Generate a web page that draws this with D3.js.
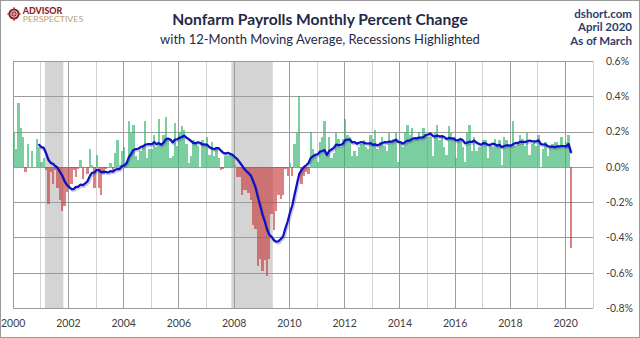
<!DOCTYPE html>
<html>
<head>
<meta charset="utf-8">
<script src="https://cdn.jsdelivr.net/npm/d3@7"></script>
<style>
  html, body { margin: 0; padding: 0; background: #fff; }
  svg { display: block; font-family: Lato, "Open Sans", sans-serif; }
</style>
</head>
<body>
<svg id="chart" width="640" height="338"></svg>
<script>
// Nonfarm payrolls, monthly percent change (%), one array per year
const pct2000 = [0.19, 0.10, 0.36, 0.22, 0.17, -0.03, 0.13, 0.00, 0.09, 0.00, 0.16, 0.11];
const pct2001 = [0.03, 0.05, -0.02, -0.21, -0.03, -0.10, -0.02, -0.12, -0.19, -0.25, -0.22, -0.14];
const pct2002 = [-0.11, -0.10, -0.02, -0.06, -0.01, 0.04, -0.07, 0.00, -0.04, 0.10, 0.01, -0.12];
const pct2003 = [0.07, -0.12, -0.16, -0.04, -0.01, 0.00, 0.02, -0.03, 0.08, 0.15, 0.01, 0.09];
const pct2004 = [0.11, 0.03, 0.26, 0.19, 0.24, 0.06, 0.04, 0.09, 0.12, 0.26, 0.05, 0.10];
const pct2005 = [0.10, 0.18, 0.11, 0.27, 0.13, 0.18, 0.28, 0.15, 0.05, 0.06, 0.25, 0.12];
const pct2006 = [0.20, 0.23, 0.21, 0.13, 0.02, 0.06, 0.15, 0.13, 0.12, 0.00, 0.15, 0.13];
const pct2007 = [0.17, 0.07, 0.14, 0.06, 0.10, 0.05, -0.02, -0.01, 0.06, 0.06, 0.08, 0.07];
const pct2008 = [0.01, -0.06, -0.06, -0.16, -0.13, -0.13, -0.15, -0.19, -0.33, -0.35, -0.56, -0.52];
const pct2009 = [-0.59, -0.53, -0.62, -0.52, -0.27, -0.36, -0.25, -0.16, -0.18, -0.16, -0.01, -0.05];
const pct2010 = [0.02, -0.05, 0.13, 0.19, 0.40, -0.10, -0.05, -0.03, -0.04, 0.20, 0.10, 0.07];
const pct2011 = [0.03, 0.14, 0.17, 0.26, 0.06, 0.17, 0.05, 0.08, 0.19, 0.16, 0.11, 0.16];
const pct2012 = [0.27, 0.18, 0.17, 0.06, 0.09, 0.06, 0.11, 0.13, 0.15, 0.11, 0.10, 0.18];
const pct2013 = [0.16, 0.21, 0.10, 0.14, 0.17, 0.12, 0.09, 0.19, 0.14, 0.16, 0.19, 0.03];
const pct2014 = [0.14, 0.11, 0.20, 0.24, 0.18, 0.22, 0.15, 0.17, 0.20, 0.16, 0.22, 0.18];
const pct2015 = [0.17, 0.17, 0.06, 0.19, 0.24, 0.15, 0.18, 0.11, 0.07, 0.23, 0.19, 0.17];
const pct2016 = [0.05, 0.16, 0.16, 0.11, 0.03, 0.19, 0.24, 0.09, 0.17, 0.09, 0.11, 0.11];
const pct2017 = [0.15, 0.15, 0.05, 0.12, 0.11, 0.16, 0.13, 0.15, 0.01, 0.17, 0.15, 0.12];
const pct2018 = [0.12, 0.26, 0.12, 0.13, 0.18, 0.16, 0.12, 0.19, 0.07, 0.13, 0.14, 0.12];
const pct2019 = [0.18, 0.00, 0.10, 0.14, 0.06, 0.12, 0.13, 0.14, 0.14, 0.12, 0.17, 0.12];
const pct2020 = [0.14, 0.18, -0.46];

const startYear = 2000;
const endYear = 2021;
const yearLabels = ["2000", "2002", "2004", "2006", "2008", "2010", "2012", "2014", "2016", "2018", "2020"];
const yTickValues = [0.6, 0.4, 0.2, 0.0, -0.2, -0.4, -0.6, -0.8];
const recessions = [
  { from: "2001-03", to: "2001-11" },
  { from: "2007-12", to: "2009-06" }
];
const maWindow = 12;

// ---- assemble the monthly series ----
const monthly = [].concat(pct2000, pct2001, pct2002, pct2003, pct2004, pct2005, pct2006,
  pct2007, pct2008, pct2009, pct2010, pct2011, pct2012, pct2013, pct2014, pct2015,
  pct2016, pct2017, pct2018, pct2019, pct2020);
const bars = monthly.map((v, i) => ({ i, v }));

// trailing 12-month moving average
const ma = [];
for (let i = maWindow - 1; i < monthly.length; i++) {
  ma.push({ i, v: d3.mean(monthly.slice(i - maWindow + 1, i + 1)) });
}

const monthIndex = s => {
  const [yy, mm] = s.split("-").map(Number);
  return (yy - startYear) * 12 + (mm - 1);
};

// ---- layout ----
const svg = d3.select("#chart");
const W = 640, H = 338;
const plot = { left: 12.7, right: 592.7, top: 61, bottom: 308 };

const x = d3.scaleLinear().domain([0, (endYear - startYear) * 12]).range([plot.left, plot.right]);
const y = d3.scaleLinear().domain([-0.8, 0.6]).range([plot.bottom, plot.top]);
const crisp = v => Math.round(v) + 0.5;

// outer frame
svg.append("rect").attr("x", 0.5).attr("y", 0.5).attr("width", W - 1).attr("height", H - 1)
  .attr("fill", "#fff").attr("stroke", "#9a9a9a");

// recession bands
svg.append("g").selectAll("rect").data(recessions).join("rect")
  .attr("x", d => x(monthIndex(d.from)))
  .attr("width", d => x(monthIndex(d.to)) - x(monthIndex(d.from)))
  .attr("y", plot.top).attr("height", plot.bottom - plot.top)
  .attr("fill", "#d4d4d4");

// gridlines
const grid = svg.append("g").attr("shape-rendering", "crispEdges");
const yearsAll = d3.range(startYear, endYear + 1);
grid.selectAll("line.v").data(yearsAll).join("line").attr("class", "v")
  .attr("x1", d => crisp(x((d - startYear) * 12))).attr("x2", d => crisp(x((d - startYear) * 12)))
  .attr("y1", plot.top).attr("y2", plot.bottom)
  .attr("stroke", d => (d % 2 === 0 && d < endYear) ? "#9c9c9c" : "#d2d2d2");
grid.selectAll("line.h").data(yTickValues).join("line").attr("class", "h")
  .attr("x1", plot.left).attr("x2", plot.right)
  .attr("y1", d => crisp(y(d))).attr("y2", d => crisp(y(d)))
  .attr("stroke", "#9c9c9c");

// monthly bars
svg.append("g").attr("shape-rendering", "crispEdges")
  .selectAll("rect").data(bars).join("rect")
  .attr("x", d => Math.round(x(d.i)))
  .attr("width", d => Math.round(x(d.i + 1)) - Math.round(x(d.i)))
  .attr("y", d => Math.round(y(Math.max(0, d.v))))
  .attr("height", d => Math.max(0, Math.round(y(Math.min(0, d.v))) - Math.round(y(Math.max(0, d.v)))))
  .attr("fill", d => d.v >= 0 ? "#2fb36b" : "#c83a3a")
  .attr("fill-opacity", 0.64);

// moving average line with a soft shadow
const line = d3.line().x(d => x(d.i + 0.5)).y(d => y(d.v)).curve(d3.curveLinear);
svg.append("path").datum(ma).attr("d", line)
  .attr("fill", "none").attr("stroke", "#303070").attr("stroke-opacity", 0.25)
  .attr("stroke-width", 2.6).attr("transform", "translate(1,1.5)")
  .attr("stroke-linejoin", "round");
svg.append("path").datum(ma).attr("d", line)
  .attr("fill", "none").attr("stroke", "#0d10c8").attr("stroke-width", 2.2)
  .attr("stroke-linejoin", "round").attr("stroke-linecap", "round");

// y axis on the right
const fmtPct = v => (v < 0 ? "-" : "") + Math.abs(v).toFixed(1) + "%";
const yAxis = svg.append("g").attr("transform", `translate(${plot.right},0)`)
  .call(d3.axisRight(y).tickValues(yTickValues).tickFormat(fmtPct).tickSize(0).tickPadding(13.3));
yAxis.select(".domain").remove();
yAxis.selectAll("text").attr("font-family", "Lato, sans-serif").attr("font-size", 10.5)
  .attr("fill", "#404040");

// x axis
const xAxis = svg.append("g").attr("transform", `translate(0,${plot.bottom})`)
  .call(d3.axisBottom(x)
    .tickValues(yearLabels.map(s => (Number(s) - startYear) * 12))
    .tickFormat((d, k) => yearLabels[k]).tickSize(0).tickPadding(12));
xAxis.select(".domain").remove();
xAxis.selectAll("text").attr("font-family", "Lato, sans-serif").attr("font-size", 10.5)
  .attr("fill", "#404040");

// titles
svg.append("text").attr("x", 320).attr("y", 25).attr("text-anchor", "middle")
  .attr("font-size", 15.6).attr("font-weight", 700).attr("fill", "#1f2a48")
  .text("Nonfarm Payrolls Monthly Percent Change");
svg.append("text").attr("x", 320).attr("y", 44).attr("text-anchor", "middle")
  .attr("font-size", 13).attr("fill", "#1f2a48")
  .text("with 12-Month Moving Average, Recessions Highlighted");

// source notes, top right
const notes = ["dshort.com", "April 2020", "As of March"];
svg.append("g").selectAll("text").data(notes).join("text")
  .attr("x", 632).attr("y", (d, k) => 17.5 + k * 13.5).attr("text-anchor", "end")
  .attr("font-size", 11.5).attr("font-weight", 700).attr("fill", "#2d3d6b")
  .text(d => d);

// publisher mark, top left
const logo = svg.append("g");
logo.append("circle").attr("cx", 14).attr("cy", 14).attr("r", 5.6).attr("fill", "#8e1f1f");
logo.append("circle").attr("cx", 14).attr("cy", 14).attr("r", 3.2).attr("fill", "none")
  .attr("stroke", "#fff").attr("stroke-width", 0.8);
logo.append("path").attr("d", "M14,7.2V20.8M7.2,14H20.8").attr("stroke", "#8e1f1f").attr("stroke-width", 1.2);
logo.append("path").attr("d", "M14,10V18M10,14H18").attr("stroke", "#fff").attr("stroke-width", 0.7);
logo.append("text").attr("x", 22.7).attr("y", 13.6).attr("font-size", 8.4).attr("font-weight", 900)
  .attr("fill", "#8e1f1f").attr("textLength", 39.6).attr("lengthAdjust", "spacingAndGlyphs")
  .text("ADVISOR");
logo.append("text").attr("x", 22.7).attr("y", 22.2).attr("font-size", 6.8)
  .attr("fill", "#b9a271").attr("textLength", 60.6).attr("lengthAdjust", "spacingAndGlyphs")
  .text("PERSPECTIVES");
</script>
</body>
</html>
